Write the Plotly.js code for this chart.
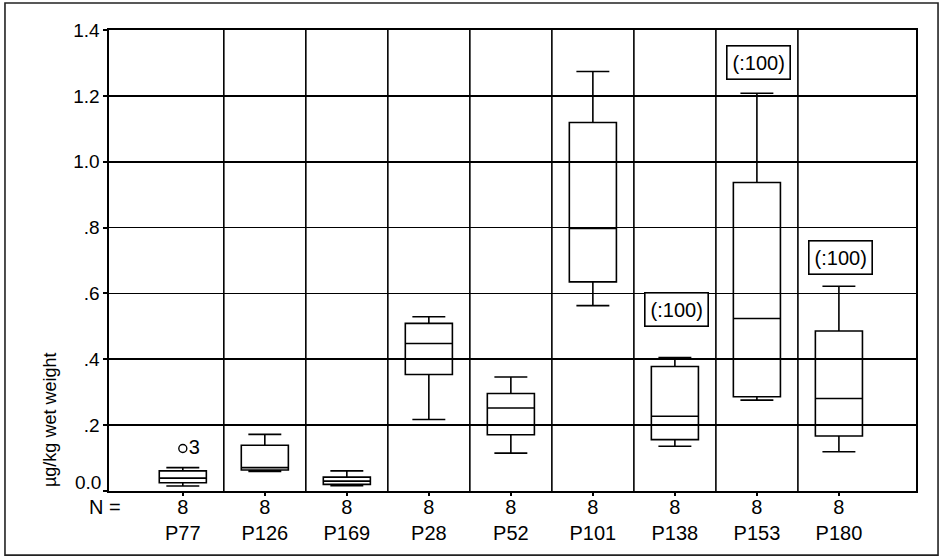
<!DOCTYPE html>
<html>
<head>
<meta charset="utf-8">
<script src="https://cdn.plot.ly/plotly-3.0.1.min.js"></script>
<style>
  html, body { margin: 0; padding: 0; background: #ffffff; }
  #chart { width: 941px; height: 559px; }
</style>
</head>
<body>
<div id="chart"></div>
<script>
// ---- data ----
const categories = ['P77', 'P126', 'P169', 'P28', 'P52', 'P101', 'P138', 'P153', 'P180'];
const counts     = [8, 8, 8, 8, 8, 8, 8, 8, 8];
const lowerWhisker = [0.015, 0.059, 0.016, 0.217, 0.115, 0.563, 0.136, 0.276, 0.119];
const q1Values     = [0.025, 0.064, 0.020, 0.354, 0.171, 0.635, 0.156, 0.286, 0.167];
const medianValues = [0.039, 0.071, 0.030, 0.448, 0.252, 0.797, 0.227, 0.524, 0.281];
const q3Values     = [0.061, 0.139, 0.042, 0.509, 0.296, 1.119, 0.378, 0.937, 0.486];
const upperWhisker = [0.071, 0.172, 0.061, 0.529, 0.346, 1.274, 0.405, 1.208, 0.622];
const outlierCategories = ['P77'];
const outlierValues     = [0.129];
const outlierLabels     = ['3'];
const scaledCategories  = ['P138', 'P153', 'P180'];
const scaledLabel       = '(:100)';
const yTickValues = [0, 0.2, 0.4, 0.6, 0.8, 1.0, 1.2, 1.4];
const yTickLabels = ['0.0', '.2', '.4', '.6', '.8', '1.0', '1.2', '1.4'];
const yTitle = 'µg/kg wet weight';
const nLabel = 'N =';

// ---- chart ----
const FONT = 'Liberation Sans, Arial, Helvetica, sans-serif';

const boxTrace = {
  type: 'box',
  x: categories,
  q1: q1Values,
  median: medianValues,
  q3: q3Values,
  lowerfence: lowerWhisker,
  upperfence: upperWhisker,
  line: { color: '#000000', width: 1.6 },
  fillcolor: 'rgba(0,0,0,0)',
  whiskerwidth: 0.7,
  boxpoints: false,
  hoverinfo: 'skip',
  showlegend: false
};

const outlierTrace = {
  type: 'scatter',
  mode: 'markers+text',
  x: outlierCategories,
  y: outlierValues,
  text: outlierLabels,
  textposition: 'middle right',
  textfont: { family: FONT, size: 20, color: '#000' },
  marker: { symbol: 'circle-open', size: 8, color: '#000', line: { width: 1.4, color: '#000' } },
  hoverinfo: 'skip',
  showlegend: false,
  cliponaxis: false
};

// separators between categories (category boundaries)
const separators = categories.slice(1).map((c, i) => ({
  type: 'line', xref: 'x', yref: 'paper',
  x0: i + 0.5, x1: i + 0.5, y0: 0, y1: 1,
  line: { color: '#000', width: 1.6 }, layer: 'below'
}));

// outer frame of the figure
const frame = {
  type: 'rect', xref: 'paper', yref: 'paper',
  x0: -0.1289, x1: 1.0273, y0: -0.139, y1: 1.0586,
  line: { color: '#222', width: 1.6 }, fillcolor: 'rgba(0,0,0,0)'
};

const scaledY = { 'P138': 0.551, 'P153': 1.300, 'P180': 0.709 };
const scaleAnnotations = scaledCategories.map(c => ({
  x: c, y: scaledY[c], xref: 'x', yref: 'y',
  text: scaledLabel, showarrow: false,
  xshift: 2,
  font: { family: FONT, size: 20, color: '#000' },
  bordercolor: '#000', borderwidth: 1.6, borderpad: 5,
  bgcolor: '#fff'
}));

// the bottom tick label is drawn raised above its tick, as in the reference
const zeroLabel = {
  xref: 'paper', yref: 'y', x: 0, y: yTickValues[0],
  xanchor: 'right', yanchor: 'middle', xshift: -6, yshift: 9,
  text: yTickLabels[0], showarrow: false,
  font: { family: FONT, size: 19, color: '#000' }
};

const layout = {
  width: 941, height: 559,
  margin: { l: 109, r: 25, t: 30, b: 68 },
  paper_bgcolor: '#fff', plot_bgcolor: '#fff',
  font: { family: FONT, size: 19, color: '#000' },
  boxgap: 0.18,
  showlegend: false,
  xaxis: {
    type: 'category',
    range: [-0.9, 8.94],
    tickvals: categories,
    ticktext: categories.map((c, i) => counts[i] + '<br>' + c),
    tickfont: { family: FONT, size: 20, color: '#000' },
    ticks: 'outside', ticklen: 3, tickwidth: 2, tickcolor: '#000',
    ticklabelstandoff: -6,
    showgrid: false, zeroline: false,
    showline: true, linecolor: '#000', linewidth: 1.6, mirror: true,
    fixedrange: true
  },
  yaxis: {
    range: [0, 1.4],
    tickvals: yTickValues,
    ticktext: yTickLabels.map((t, i) => i === 0 ? '' : t),
    tickfont: { family: FONT, size: 19, color: '#000' },
    ticks: 'outside', ticklen: 4, tickwidth: 2, tickcolor: '#000',
    showgrid: true, gridcolor: '#000', gridwidth: 1.6,
    zeroline: false,
    showline: true, linecolor: '#000', linewidth: 1.6, mirror: true,
    fixedrange: true
  },
  shapes: separators.concat([frame]),
  annotations: scaleAnnotations.concat([
    zeroLabel,
    {
      xref: 'paper', yref: 'paper', x: 0.0173, y: -0.035,
      xanchor: 'right', yanchor: 'middle',
      text: nLabel, showarrow: false,
      font: { family: FONT, size: 20, color: '#000' }
    },
    {
      xref: 'paper', yref: 'paper', x: -0.0731, y: 0.154,
      xanchor: 'center', yanchor: 'middle', textangle: -90,
      text: yTitle, showarrow: false,
      font: { family: FONT, size: 18, color: '#000' }
    }
  ])
};

Plotly.newPlot('chart', [boxTrace, outlierTrace], layout, { displayModeBar: false, staticPlot: true });
</script>
</body>
</html>
